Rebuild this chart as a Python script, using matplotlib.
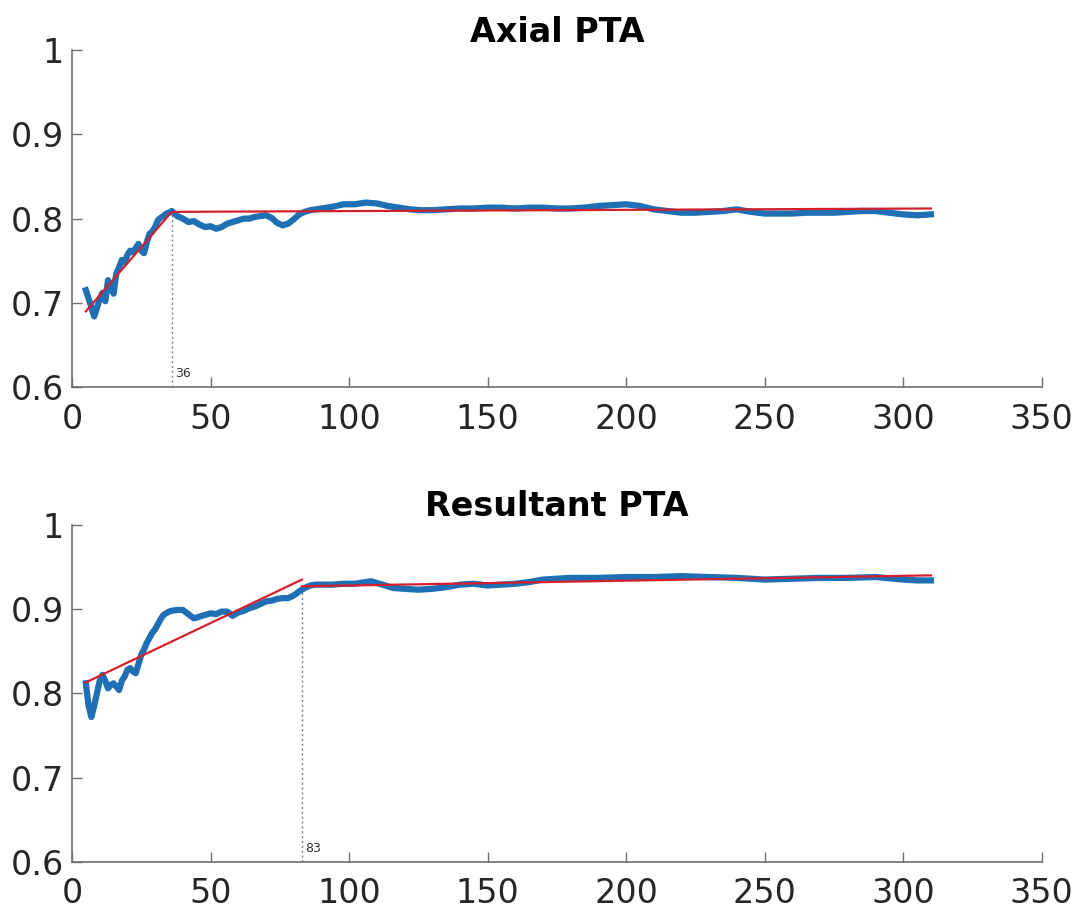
import numpy as np
import matplotlib
matplotlib.use("Agg")
import matplotlib.pyplot as plt

# axial PTA curve
ax_x = [5, 6, 7, 8, 9, 10, 11, 12, 13, 14, 15, 16, 17, 18, 19, 20, 21, 22, 23, 24, 25, 26, 27, 28,
        29, 30, 31, 32, 33, 34, 35, 36, 38, 40, 42, 44, 46, 48, 50, 52, 54, 56, 58, 60, 62, 64,
        66, 68, 70, 72, 74, 76, 78, 80, 82, 84, 86, 88, 90, 94, 98, 102, 106, 110, 114, 118, 122,
        126, 130, 135, 140, 145, 150, 155, 160, 165, 170, 175, 180, 185, 190, 195, 200, 205, 210,
        215, 220, 225, 230, 235, 240, 245, 250, 255, 260, 265, 270, 275, 280, 285, 290, 295, 300,
        305, 310]
ax_y = [0.715, 0.705, 0.695, 0.684, 0.694, 0.705, 0.712, 0.702, 0.727, 0.718, 0.711, 0.735,
        0.742, 0.751, 0.748, 0.757, 0.762, 0.760, 0.765, 0.770, 0.762, 0.759, 0.772, 0.782,
        0.785, 0.790, 0.798, 0.801, 0.803, 0.806, 0.807, 0.809, 0.803, 0.800, 0.796, 0.797,
        0.793, 0.790, 0.791, 0.788, 0.790, 0.794, 0.796, 0.798, 0.800, 0.800, 0.802, 0.803,
        0.804, 0.801, 0.795, 0.792, 0.794, 0.799, 0.805, 0.808, 0.810, 0.811, 0.812, 0.814,
        0.817, 0.817, 0.819, 0.818, 0.815, 0.813, 0.811, 0.810, 0.810, 0.811, 0.812, 0.812,
        0.813, 0.813, 0.812, 0.813, 0.813, 0.812, 0.812, 0.813, 0.815, 0.816, 0.817, 0.815,
        0.811, 0.809, 0.807, 0.807, 0.808, 0.809, 0.811, 0.808, 0.806, 0.806, 0.806, 0.807,
        0.807, 0.807, 0.808, 0.809, 0.809, 0.807, 0.805, 0.804, 0.805]
ax_fit_x = [5, 36, 310]
ax_fit_y = [0.690, 0.808, 0.812]
ax_break = 36

# resultant PTA curve
res_x = [5, 6, 7, 8, 9, 10, 11, 12, 13, 14, 15, 16, 17, 18, 19, 20, 21, 22, 23, 24, 25, 26, 27,
         28, 29, 30, 31, 32, 33, 34, 35, 36, 38, 40, 42, 44, 46, 48, 50, 52, 54, 56, 58, 60, 62,
         64, 66, 68, 70, 72, 74, 76, 78, 80, 82, 84, 86, 88, 90, 94, 98, 102, 106, 108, 112, 116,
         120, 125, 130, 135, 140, 145, 150, 155, 160, 165, 170, 175, 180, 190, 200, 210, 220,
         230, 240, 250, 260, 270, 280, 290, 300, 305, 310]
res_y = [0.812, 0.785, 0.772, 0.785, 0.800, 0.815, 0.822, 0.815, 0.806, 0.810, 0.812, 0.808,
         0.804, 0.815, 0.820, 0.828, 0.830, 0.826, 0.824, 0.835, 0.846, 0.852, 0.860, 0.866,
         0.872, 0.876, 0.882, 0.888, 0.893, 0.895, 0.897, 0.898, 0.899, 0.899, 0.894, 0.889,
         0.891, 0.893, 0.895, 0.894, 0.897, 0.897, 0.892, 0.896, 0.898, 0.901, 0.903, 0.906,
         0.909, 0.910, 0.912, 0.913, 0.913, 0.916, 0.921, 0.925, 0.928, 0.929, 0.929, 0.929,
         0.930, 0.930, 0.932, 0.933, 0.929, 0.925, 0.924, 0.923, 0.924, 0.926, 0.929, 0.930,
         0.928, 0.929, 0.930, 0.932, 0.935, 0.936, 0.937, 0.937, 0.938, 0.938, 0.939, 0.938,
         0.937, 0.935, 0.936, 0.937, 0.937, 0.938, 0.935, 0.934, 0.934]
res_fit_x = [[5, 83], [83, 310]]
res_fit_y = [[0.813, 0.935], [0.927, 0.940]]
res_break = 83

xticks = [0, 50, 100, 150, 200, 250, 300, 350]
yticks = [0.6, 0.7, 0.8, 0.9, 1.0]
ytick_labels = ["0.6", "0.7", "0.8", "0.9", "1"]

blue = "#1f6fb4"
red = "#d4202c"
axcol = "#6e6e6e"


def style(ax, title):
    ax.set_xlim(0, 350)
    ax.set_ylim(0.6, 1.0)
    ax.set_xticks(xticks)
    ax.set_yticks(yticks)
    ax.set_yticklabels(ytick_labels)
    for s in ["top", "right"]:
        ax.spines[s].set_visible(False)
    for s in ["left", "bottom"]:
        ax.spines[s].set_color(axcol)
        ax.spines[s].set_linewidth(1.2)
    ax.tick_params(direction="in", length=7, width=1.0, color=axcol,
                   labelsize=24, labelcolor="#262626")
    ax.tick_params(axis="x", pad=11)
    ax.tick_params(axis="y", pad=6)
    ax.set_title(title, fontsize=24, fontweight="bold", pad=6)


def mark_break(ax, xb, ytop):
    ax.plot([xb, xb], [0.6, ytop], ls=(0, (1.5, 2)), color="#808080", lw=1.0, zorder=1)
    ax.text(xb + 1.2, 0.612, str(xb), fontsize=9, color="#333333")


fig = plt.figure(figsize=(10.81, 9.09), dpi=100)
ax1 = fig.add_axes([0.0666, 0.574, 0.897, 0.371])
ax2 = fig.add_axes([0.0666, 0.0517, 0.897, 0.371])

ax1.plot(ax_x, ax_y, color=blue, lw=4.5, solid_joinstyle="round", zorder=2)
ax1.plot(ax_fit_x, ax_fit_y, color=red, lw=1.6, zorder=3)
mark_break(ax1, ax_break, 0.808)
style(ax1, "Axial PTA")

ax2.plot(res_x, res_y, color=blue, lw=4.5, solid_joinstyle="round", zorder=2)
for fx, fy in zip(res_fit_x, res_fit_y):
    ax2.plot(fx, fy, color=red, lw=1.6, zorder=3)
mark_break(ax2, res_break, 0.925)
style(ax2, "Resultant PTA")

fig.savefig("out.png", dpi=100)
